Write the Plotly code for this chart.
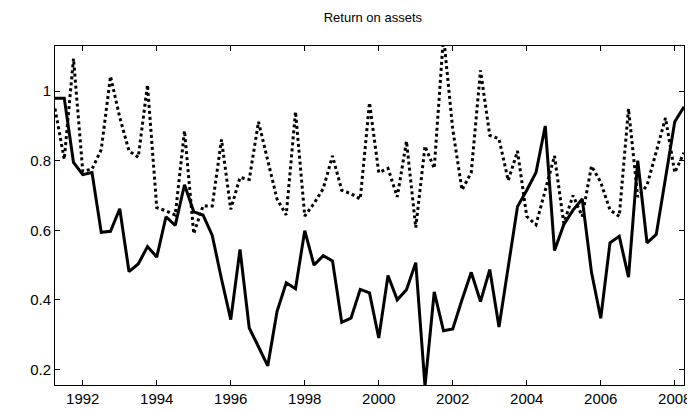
import plotly.graph_objects as go

# quarterly dates, 1991Q2 .. 2008Q2
years = [1991.25 + 0.25 * i for i in range(69)]

# solid series
roa_solid = [
    0.98, 0.98, 0.795,
    0.76, 0.766, 0.594, 0.597,
    0.662, 0.481, 0.503, 0.553,
    0.523, 0.639, 0.614, 0.731,
    0.653, 0.644, 0.585, 0.46,
    0.343, 0.545, 0.319, 0.265,
    0.21, 0.366, 0.449, 0.432,
    0.599, 0.50, 0.527, 0.512,
    0.335, 0.347, 0.43, 0.42,
    0.29, 0.47, 0.40, 0.429,
    0.507, 0.152, 0.423, 0.311,
    0.316, 0.40, 0.479, 0.395,
    0.487, 0.322, 0.50, 0.668,
    0.715, 0.766, 0.90, 0.542,
    0.616, 0.658, 0.69, 0.479,
    0.347, 0.564, 0.583, 0.465,
    0.80, 0.564, 0.588, 0.75,
    0.912, 0.955,
]

# dotted series
roa_dotted = [
    0.95, 0.804, 1.094,
    0.77, 0.776, 0.832, 1.043,
    0.925, 0.828, 0.81, 1.018,
    0.665, 0.656, 0.644, 0.886,
    0.59, 0.67, 0.67, 0.861,
    0.66, 0.752, 0.746, 0.912,
    0.80, 0.69, 0.644, 0.941,
    0.641, 0.677, 0.72, 0.814,
    0.715, 0.705, 0.69, 0.967,
    0.766, 0.778, 0.696, 0.856,
    0.608, 0.842, 0.778, 1.16,
    0.89, 0.716, 0.766, 1.06,
    0.873, 0.863, 0.743, 0.828,
    0.64, 0.616, 0.715, 0.814,
    0.62, 0.70, 0.64, 0.785,
    0.738, 0.658, 0.64, 0.95,
    0.696, 0.729, 0.826, 0.923,
    0.766, 0.823,
]

x_ticks = [1992, 1994, 1996, 1998, 2000, 2002, 2004, 2006, 2008]
y_ticks = [0.2, 0.4, 0.6, 0.8, 1]

FONT = "Liberation Sans, Arial, sans-serif"

fig = go.Figure()
fig.add_trace(go.Scatter(
    x=years, y=roa_dotted, mode="lines",
    line=dict(color="black", width=3, dash="dot"),
))
fig.add_trace(go.Scatter(
    x=years, y=roa_solid, mode="lines",
    line=dict(color="black", width=3),
))

axis_style = dict(
    showline=True, linecolor="black", linewidth=1, mirror="ticks",
    ticks="inside", ticklen=5, tickcolor="black", tickwidth=1,
    showgrid=False, zeroline=False,
    tickfont=dict(family=FONT, size=15, color="black"),
)

fig.update_layout(
    width=695, height=411,
    margin=dict(l=47, r=12, t=38, b=28),
    paper_bgcolor="white", plot_bgcolor="white",
    showlegend=False,
    title=dict(
        text="Return on assets", x=0.525, xanchor="center",
        y=0.978, yanchor="middle", yref="container",
        font=dict(family=FONT, size=13, color="black"),
    ),
    xaxis=dict(range=[1991.25, 2008.25], tickvals=x_ticks, **axis_style),
    yaxis=dict(range=[0.155, 1.13], tickvals=y_ticks,
               ticktext=["0.2", "0.4", "0.6", "0.8", "1"], **axis_style),
)

fig.write_html("out.html")
